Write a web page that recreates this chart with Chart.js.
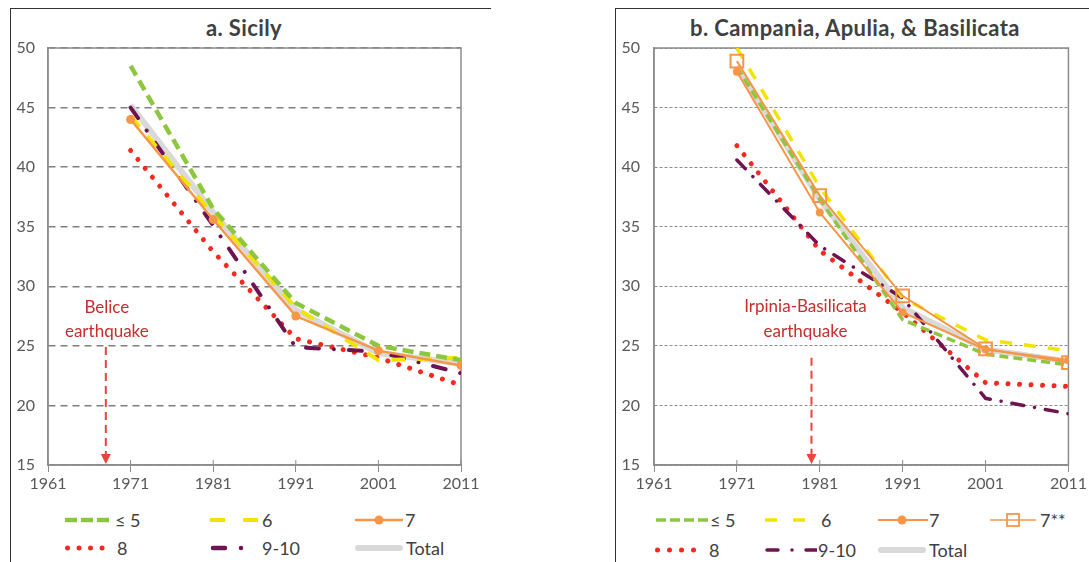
<!DOCTYPE html>
<html lang="en">
<head>
  <meta charset="UTF-8">
  <title>Population by seismic zone</title>
  <script src="https://cdn.jsdelivr.net/npm/chart.js"></script>
  <style>
    body {
      margin: 0;
      width: 1089px;
      height: 562px;
      position: relative;
      overflow: hidden;
      background: #fff;
      font-family: Lato, sans-serif;
    }
    .frame {
      position: absolute;
      top: 8px;
      height: 560px;
      border-top: 1.5px solid #333;
      border-left: 1.5px solid #333;
    }
    #frameA { left: 10px; width: 480px; }
    #frameB { left: 615px; width: 480px; }
    canvas { position: absolute; top: 0; }
    #chartA { left: 0; }
    #chartB { left: 600px; }
    .title {
      position: absolute;
      top: 14px;
      font-size: 22px;
      line-height: 28px;
      letter-spacing: 0.4px;
      font-weight: bold;
      color: #404040;
      transform: translateX(-50%);
      white-space: nowrap;
    }
    .legend-item {
      position: absolute;
      display: flex;
      align-items: center;
      font-size: 18px;
      color: #404040;
      transform: translateY(-50%);
      white-space: nowrap;
    }
    .legend-item svg { display: block; }
  </style>
</head>
<body>
  <div class="frame" id="frameA"></div>
  <div class="frame" id="frameB"></div>
  <div class="title" style="left:244px">a. Sicily</div>
  <div class="title" style="left:855px">b. Campania, Apulia, &amp; Basilicata</div>
  <canvas id="chartA" width="500" height="500"></canvas>
  <canvas id="chartB" width="489" height="500"></canvas>
  <div id="legendA"></div>
  <div id="legendB"></div>

  <script>
    // census years and axis ranges
    const years = [1971, 1981, 1991, 2001, 2011];
    const xRange = [1961, 2011];
    const yRange = [15, 50];

    // a. Sicily
    const sicilyLe5   = [48.5, 36.5, 28.6, 25.0, 23.8];
    const sicily6     = [44.3, 36.0, 28.2, 23.8, 24.0];
    const sicily7     = [44.0, 35.6, 27.5, 24.6, 23.35];
    const sicily8     = [41.4, 32.9, 25.6, 24.0, 21.7];
    const sicily910   = [45.0, 35.1, 24.9, 24.5, 22.7];
    const sicilyTotal = [45.2, 36.2, 28.0, 24.4, 23.5];

    // b. Campania, Apulia, & Basilicata
    const campLe5   = [48.4, 37.3, 27.2, 24.3, 23.4];
    const camp6     = [50.0, 38.3, 29.0, 25.5, 24.6];
    const camp7     = [48.0, 36.2, 27.8, 24.7, 23.8];
    const camp7ss   = [48.9, 37.6, 29.2, 24.75, 23.6];
    const camp8     = [41.8, 33.0, 27.8, 21.9, 21.6];
    const camp910   = [40.6, 33.4, 29.0, 20.6, 19.3];
    const campTotal = [48.5, 37.3, 28.2, 24.7, 23.7];

    // earthquakes marked with arrows
    const quakeYears = [1968, 1980];
    const quakeLabels = [["Belice", "earthquake"], ["Irpinia-Basilicata", "earthquake"]];

    const GREEN = "#8DC63F", YELLOW = "#F2E300", ORANGE = "#F79646",
          RED = "#F52A1E", PURPLE = "#6E1450", GREY = "#D9D9D9";

    function pts(vals) {
      return years.map((yr, i) => ({ x: yr, y: vals[i] }));
    }

    function line(label, vals, style) {
      return Object.assign({
        label: label,
        data: pts(vals),
        fill: false,
        tension: 0,
        pointRadius: 0,
        pointHoverRadius: 0,
        borderCapStyle: "butt"
      }, style);
    }

    // gray frame around the plot area
    const plotBox = {
      id: "plotBox",
      beforeDatasetsDraw(chart) {
        const a = chart.chartArea, ctx = chart.ctx;
        ctx.save();
        ctx.strokeStyle = "#8c8c8c";
        ctx.lineWidth = 1.5;
        ctx.strokeRect(a.left, a.top, a.right - a.left, a.bottom - a.top);
        // small tick marks reaching up into the plot
        ctx.lineWidth = 1;
        years.concat([xRange[0]]).forEach(v => {
          const x = chart.scales.x.getPixelForValue(v);
          ctx.beginPath();
          ctx.moveTo(x, a.bottom);
          ctx.lineTo(x, a.bottom - 5);
          ctx.stroke();
        });
        ctx.restore();
      }
    };

    // dashed arrow + label for the earthquake year
    const quakeMark = {
      id: "quakeMark",
      afterDatasetsDraw(chart, args, opts) {
        const x = chart.scales.x.getPixelForValue(opts.year);
        const yS = chart.scales.y;
        const ctx = chart.ctx;
        ctx.save();
        ctx.fillStyle = "#C62D2D";
        ctx.font = "17px Lato";
        ctx.textAlign = "center";
        ctx.textBaseline = "middle";
        opts.lines.forEach((t, i) => ctx.fillText(t, x + opts.textShift, yS.getPixelForValue(opts.lineY[i])));
        const top = yS.getPixelForValue(opts.arrowTop);
        const bottom = yS.getPixelForValue(yRange[0]);
        ctx.strokeStyle = "#E8453C";
        ctx.fillStyle = "#E8453C";
        ctx.lineWidth = 2;
        ctx.setLineDash([8, 5]);
        ctx.beginPath();
        ctx.moveTo(x, top);
        ctx.lineTo(x, bottom - 9);
        ctx.stroke();
        ctx.setLineDash([]);
        ctx.beginPath();
        ctx.moveTo(x - 5, bottom - 11);
        ctx.lineTo(x + 5, bottom - 11);
        ctx.lineTo(x, bottom - 1);
        ctx.closePath();
        ctx.fill();
        ctx.restore();
      }
    };

    function makeChart(id, datasets, cfg) {
      return new Chart(document.getElementById(id), {
        type: "line",
        data: { datasets: datasets },
        options: {
          responsive: false,
          animation: false,
          events: [],
          layout: { padding: { top: 48, right: cfg.right, left: 0, bottom: 0 } },
          plugins: {
            legend: { display: false },
            tooltip: { enabled: false },
            quakeMark: cfg.quake
          },
          scales: {
            x: {
              type: "linear",
              min: xRange[0],
              max: xRange[1],
              ticks: {
                stepSize: 10,
                maxRotation: 0,
                padding: 2,
                color: "#595959",
                font: { family: "Lato", size: 16 },
                callback: v => String(v)
              },
              grid: { drawOnChartArea: false, tickLength: 7, color: "#8c8c8c", lineWidth: 1 },
              border: { color: "#8c8c8c", width: 1.5 },
              afterFit: s => { s.height = 35; }
            },
            y: {
              min: yRange[0],
              max: yRange[1],
              ticks: {
                stepSize: 5,
                padding: cfg.yPad,
                color: "#595959",
                font: { family: "Lato", size: 16 }
              },
              grid: { drawTicks: false, color: cfg.gridColor, lineWidth: cfg.gridWidth },
              border: { color: "#8c8c8c", width: 1.5, dash: cfg.gridDash },
              afterFit: s => { s.width = cfg.left; }
            }
          }
        },
        plugins: [plotBox, quakeMark]
      });
    }

    makeChart("chartA", [
      line("7", sicily7, { borderColor: ORANGE, borderWidth: 2.5, pointRadius: 4.5, pointBackgroundColor: ORANGE, pointBorderWidth: 0, order: 1 }),
      line("≤ 5", sicilyLe5, { borderColor: GREEN, borderWidth: 4.5, borderDash: [11, 6], order: 2 }),
      line("6", sicily6, { borderColor: YELLOW, borderWidth: 4, borderDash: [14, 12], order: 3 }),
      line("9-10", sicily910, { borderColor: PURPLE, borderWidth: 4, borderDash: [13, 15, 0.01, 15], borderCapStyle: "round", order: 4 }),
      line("8", sicily8, { borderColor: RED, borderWidth: 5, borderDash: [0.01, 11.5], borderCapStyle: "round", order: 5 }),
      line("Total", sicilyTotal, { borderColor: GREY, borderWidth: 6, order: 9 })
    ], {
      left: 48, right: 39, yPad: 13,
      gridColor: "#7f7f7f", gridWidth: 1.5, gridDash: [7, 5],
      quake: { year: quakeYears[0], lines: quakeLabels[0], lineY: [28.2, 26.2], arrowTop: 24.9, textShift: 1 }
    });

    makeChart("chartB", [
      line("7**", camp7ss, { borderColor: ORANGE, borderWidth: 2, pointStyle: "rect", pointRadius: 9, pointBorderWidth: 2, pointBorderColor: ORANGE, pointBackgroundColor: "rgba(0,0,0,0)", order: 1 }),
      line("7", camp7, { borderColor: ORANGE, borderWidth: 2, pointRadius: 4, pointBackgroundColor: ORANGE, pointBorderWidth: 0, order: 2 }),
      line("≤ 5", campLe5, { borderColor: GREEN, borderWidth: 3.5, borderDash: [9, 5], order: 3 }),
      line("6", camp6, { borderColor: YELLOW, borderWidth: 3.5, borderDash: [12, 12], order: 4 }),
      line("9-10", camp910, { borderColor: PURPLE, borderWidth: 3.5, borderDash: [12, 11, 0.01, 11], borderCapStyle: "round", order: 5 }),
      line("8", camp8, { borderColor: RED, borderWidth: 5, borderDash: [0.01, 11.5], borderCapStyle: "round", order: 6 }),
      line("Total", campTotal, { borderColor: GREY, borderWidth: 6, order: 9 })
    ], {
      left: 54, right: 20, yPad: 14,
      gridColor: "#8c8c8c", gridWidth: 1, gridDash: [3, 2],
      quake: { year: quakeYears[1], lines: quakeLabels[1], lineY: [28.3, 26.2], arrowTop: 24.0, textShift: -6 }
    });

    // legends (html, with svg line samples)
    function sample(w, inner) {
      return '<svg width="' + w + '" height="16" viewBox="0 0 ' + w + ' 16">' + inner + '</svg>';
    }
    function seg(x1, x2, color, width, dash, cap) {
      return '<line x1="' + x1 + '" y1="8" x2="' + x2 + '" y2="8" stroke="' + color + '" stroke-width="' + width + '"' +
        (dash ? ' stroke-dasharray="' + dash + '"' : '') + ' stroke-linecap="' + (cap || "butt") + '"/>';
    }
    function addItem(parent, left, top, svg, text, gap) {
      const d = document.createElement("div");
      d.className = "legend-item";
      d.style.left = left + "px";
      d.style.top = top + "px";
      d.innerHTML = svg + '<span style="margin-left:' + gap + 'px">' + text + '</span>';
      document.getElementById(parent).appendChild(d);
    }

    addItem("legendA", 65, 520, sample(48, seg(0, 48, GREEN, 4.5, "12 4")), "≤ 5", 2);
    addItem("legendA", 210, 520, sample(48, seg(0, 48, YELLOW, 4, "15 18")), "6", 4);
    addItem("legendA", 355, 520, sample(48, seg(0, 48, ORANGE, 2.5) + '<circle cx="24" cy="8" r="4.5" fill="' + ORANGE + '"/>'), "7", 2);
    addItem("legendA", 65, 548, sample(48, seg(2.5, 48, RED, 5, "0.01 11.5", "round")), "8", 4);
    addItem("legendA", 210, 548, sample(48, seg(3, 48, PURPLE, 4.5, "12 16 0.01 50", "round")), "9-10", 4);
    addItem("legendA", 355, 548, sample(48, seg(3, 45, GREY, 6, null, "round")), "Total", 3);

    addItem("legendB", 656, 520, sample(52, seg(0, 52, GREEN, 3.5, "10 4")), "≤ 5", 2);
    addItem("legendB", 765, 520, sample(42, seg(0, 42, YELLOW, 3.5, "12 16")), "6", 14);
    addItem("legendB", 878, 520, sample(50, seg(0, 50, ORANGE, 2) + '<circle cx="24" cy="8" r="4.5" fill="' + ORANGE + '"/>'), "7", 1);
    addItem("legendB", 990, 520, sample(46, seg(0, 46, ORANGE, 1.5) + '<rect x="17" y="2" width="12" height="12" fill="none" stroke="' + ORANGE + '" stroke-width="1.8"/>'), "7**", 4);
    addItem("legendB", 655, 550, sample(44, seg(2.5, 44, RED, 5, "0.01 12", "round")), "8", 10);
    addItem("legendB", 765, 550, sample(52, seg(2, 52, PURPLE, 3.5, "11 14 0.01 14 11", "round")), "9-10", 1);
    addItem("legendB", 878, 550, sample(48, seg(3, 45, GREY, 6, null, "round")), "Total", 3);
  </script>
</body>
</html>
